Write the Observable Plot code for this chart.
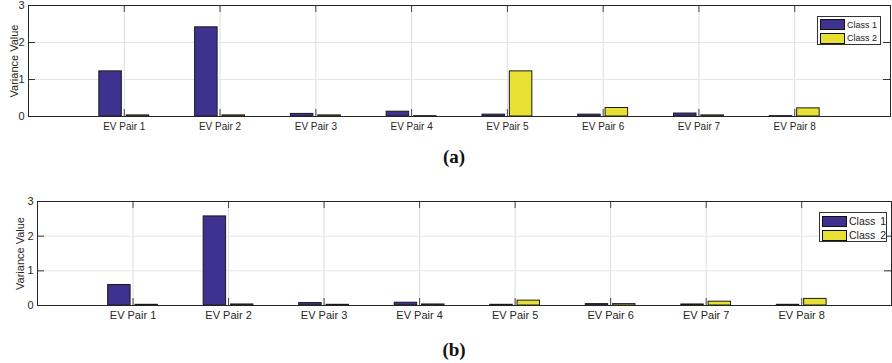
<!DOCTYPE html>
<html><head><meta charset="utf-8">
<script src="https://cdn.jsdelivr.net/npm/d3@7"></script>
<script src="https://cdn.jsdelivr.net/npm/@observablehq/plot@0.6"></script>
<style>
body{margin:0;background:#fff;}
#fig{position:relative;width:892px;height:363px;overflow:hidden;font-family:"Liberation Sans",Arial,sans-serif;background:#fff;}
.panel{position:absolute;left:0;}
.cap{position:absolute;font-family:"Liberation Serif","Times New Roman",serif;font-weight:bold;font-size:19px;line-height:1;transform:translate(-50%,-50%);color:#111;}
.legend{position:absolute;border:1px solid #333;background:#fff;box-sizing:border-box;color:#222;font-family:"Liberation Sans",Arial,sans-serif;}
.legend .row{position:absolute;display:flex;align-items:center;white-space:nowrap;}
.legend .sw{border:1px solid #111;box-sizing:border-box;}
</style></head><body><div id="fig"></div><script>
const pairs = ["EV Pair 1","EV Pair 2","EV Pair 3","EV Pair 4","EV Pair 5","EV Pair 6","EV Pair 7","EV Pair 8"];
const classes = ["Class 1","Class 2"];
const class1A = [1.22, 2.41, 0.07, 0.13, 0.05, 0.05, 0.08, 0.01];
const class2A = [0.03, 0.03, 0.03, 0.01, 1.22, 0.23, 0.03, 0.22];
const class1B = [0.59, 2.57, 0.07, 0.08, 0.02, 0.04, 0.03, 0.02];
const class2B = [0.02, 0.03, 0.02, 0.03, 0.14, 0.04, 0.11, 0.19];
const yTicks = [0, 1, 2, 3];
const colors = ["#3f3190", "#e9e034"];

const xTicks = pairs.map((p, i) => i + 1);
const offsets = [-0.143, 0.143];
const bw = 0.235;
const tickPx = 7;

function rowsOf(c1, c2) {
  const rows = [];
  pairs.forEach((p, i) => {
    rows.push({pos: i + 1, k: 0, cls: classes[0], value: c1[i]});
    rows.push({pos: i + 1, k: 1, cls: classes[1], value: c2[i]});
  });
  return rows;
}

function panel(c1, c2, o) {
  const rows = rowsOf(c1, c2);
  const plotW = 892 - o.ml - o.mr, plotH = o.height - o.mt - o.mb;
  const tx = tickPx / plotW * o.xMax;   // tick length in x data units
  const ty = tickPx / plotH * 3;        // tick length in y data units
  return Plot.plot({
    width: 892, height: o.height,
    marginTop: o.mt, marginBottom: o.mb, marginLeft: o.ml, marginRight: o.mr,
    style: {fontFamily: "Liberation Sans, Arial, sans-serif", fontSize: o.fs + "px", color: "#262626", background: "white", overflow: "visible"},
    x: {domain: [0, o.xMax]},
    y: {domain: [0, 3]},
    color: {domain: classes, range: colors},
    marks: [
      Plot.gridX(xTicks, {stroke: "#dedede", strokeOpacity: 1}),
      Plot.gridY(yTicks, {stroke: "#e6e6e6", strokeOpacity: 1}),
      Plot.rectY(rows, {
        x1: d => d.pos + offsets[d.k] - bw / 2,
        x2: d => d.pos + offsets[d.k] + bw / 2,
        y1: 0, y2: "value", fill: "cls", stroke: "#1a1a1a", strokeWidth: 1
      }),
      // inward ticks
      Plot.ruleX(xTicks, {y1: 0, y2: ty, stroke: "#444"}),
      Plot.ruleX(xTicks, {y1: 3 - ty, y2: 3, stroke: "#444"}),
      Plot.ruleY(yTicks, {x1: 0, x2: tx, stroke: "#333"}),
      Plot.ruleY(yTicks, {x1: o.xMax - tx, x2: o.xMax, stroke: "#333"}),
      Plot.axisX(xTicks, {anchor: "bottom", tickSize: 0, tickPadding: o.tp, tickFormat: d => pairs[d - 1], label: null, fontSize: o.fs}),
      Plot.axisY(yTicks, {anchor: "left", tickSize: 0, tickPadding: 4, label: "Variance Value", labelArrow: "none", labelAnchor: "center", labelOffset: o.lo, fontSize: o.lfs}),
      Plot.frame({stroke: "#262626", strokeWidth: 1})
    ]
  });
}

function legend(o) {
  const L = document.createElement("div");
  L.className = "legend";
  Object.assign(L.style, {left: o.x + "px", top: o.y + "px", width: o.w + "px", height: o.h + "px", fontSize: o.fs + "px", wordSpacing: o.ws + "px"});
  classes.forEach((c, i) => {
    const r = document.createElement("div");
    r.className = "row";
    Object.assign(r.style, {left: "2px", top: (o.r0 + i * o.rh) + "px"});
    const s = document.createElement("div");
    s.className = "sw";
    Object.assign(s.style, {width: o.sw + "px", height: o.sh + "px", background: colors[i], marginRight: "2px"});
    const t = document.createElement("span");
    t.textContent = c;
    r.append(s, t);
    L.append(r);
  });
  return L;
}

const fig = document.getElementById("fig");
const a = panel(class1A, class2A, {height: 135, mt: 5, mb: 19, ml: 28, mr: 2, xMax: 9, fs: 10, lfs: 11, tp: 6, lo: 18});
a.classList.add("panel"); a.style.top = "0px";
const b = panel(class1B, class2B, {height: 145, mt: 21, mb: 20, ml: 37, mr: 1, xMax: 8.94, fs: 11, lfs: 11, tp: 6, lo: 21});
b.classList.add("panel"); b.style.top = "180px";
fig.append(a, b);
fig.append(legend({x: 817, y: 16, w: 64, h: 29, fs: 9, ws: 0, r0: 2, rh: 13.5, sw: 25, sh: 11}));
fig.append(legend({x: 819, y: 212, w: 68, h: 30, fs: 10.5, ws: 2, r0: 2, rh: 14, sw: 25, sh: 11}));
const capA = document.createElement("div"); capA.className = "cap"; capA.textContent = "(a)";
Object.assign(capA.style, {left: "454px", top: "156px"});
const capB = document.createElement("div"); capB.className = "cap"; capB.textContent = "(b)";
Object.assign(capB.style, {left: "454px", top: "349px"});
fig.append(capA, capB);
</script></body></html>
